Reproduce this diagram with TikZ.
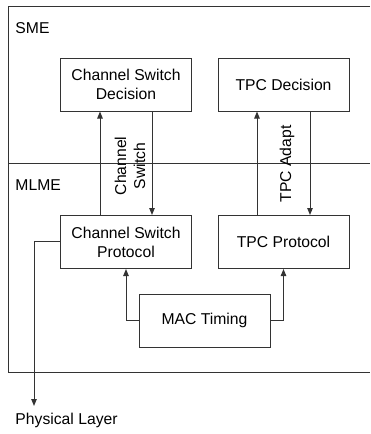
\documentclass[tikz,border=0pt]{standalone}
\usepackage{fontspec}
\setmainfont{Liberation Sans}
\usetikzlibrary{arrows.meta,calc}
\begin{document}
\begin{tikzpicture}[x=1pt,y=-1pt,
  line width=1pt,
  ln/.style={draw=black!80},
  blk/.style={draw=black!80,fill=white,minimum width=131pt,minimum height=53pt,inner sep=0pt,align=center,font=\fontsize{15.7}{19}\selectfont},
  lbl/.style={font=\fontsize{15.7}{19}\selectfont,inner sep=0pt,align=center},
  arr/.style={ln,-{Triangle[length=7pt,width=5.5pt]}}]
\useasboundingbox (0,0) rectangle (370,434);
% outer frame and divider
\draw[ln] (370,6) -- (8,6) -- (8,372) -- (370,372);
\coordinate (divl) at (8,163);
\coordinate (divr) at (370,163);
\draw[ln] (divl) -- (divr);
\node[lbl,anchor=west] (sme) at (15,28) {SME};
\node[lbl,anchor=west] (mlme) at (15,185) {MLME};
% blocks
\node[blk] (csd) at (126,84.5) {Channel Switch\\Decision};
\node[blk] (tpcd) at (283.5,84.5) {TPC Decision};
\node[blk] (csp) at (126,242) {Channel Switch\\Protocol};
\node[blk] (tpcp) at (283.5,242) {TPC Protocol};
\node[blk] (mac) at (204.5,320.5) {MAC Timing};
% channel switch arrows
\draw[arr] ($(csp.north)+(-26,0)$) -- ($(csd.south)+(-26,0)$);
\draw[arr] ($(csd.south)+(26,0)$) -- ($(csp.north)+(26,0)$);
\node[lbl,rotate=90] (cslbl) at (130,166) {Channel\\Switch};
% TPC arrows
\draw[arr] ($(tpcp.north)+(-26.5,0)$) -- ($(tpcd.south)+(-26.5,0)$);
\draw[arr] ($(tpcd.south)+(26.5,0)$) -- ($(tpcp.north)+(26.5,0)$);
\node[lbl,rotate=90] (tpclbl) at (287,164) {TPC Adapt};
% MAC timing
\draw[arr] (mac.west) -| (csp.south);
\draw[arr] (mac.east) -| (tpcp.south);
% physical layer
\coordinate (phys) at (34,406);
\draw[arr] ($(csp.west)+(0,-1)$) -| (phys);
\node[lbl,anchor=west] (physlbl) at (15,420) {Physical Layer};
\end{tikzpicture}
\end{document}
